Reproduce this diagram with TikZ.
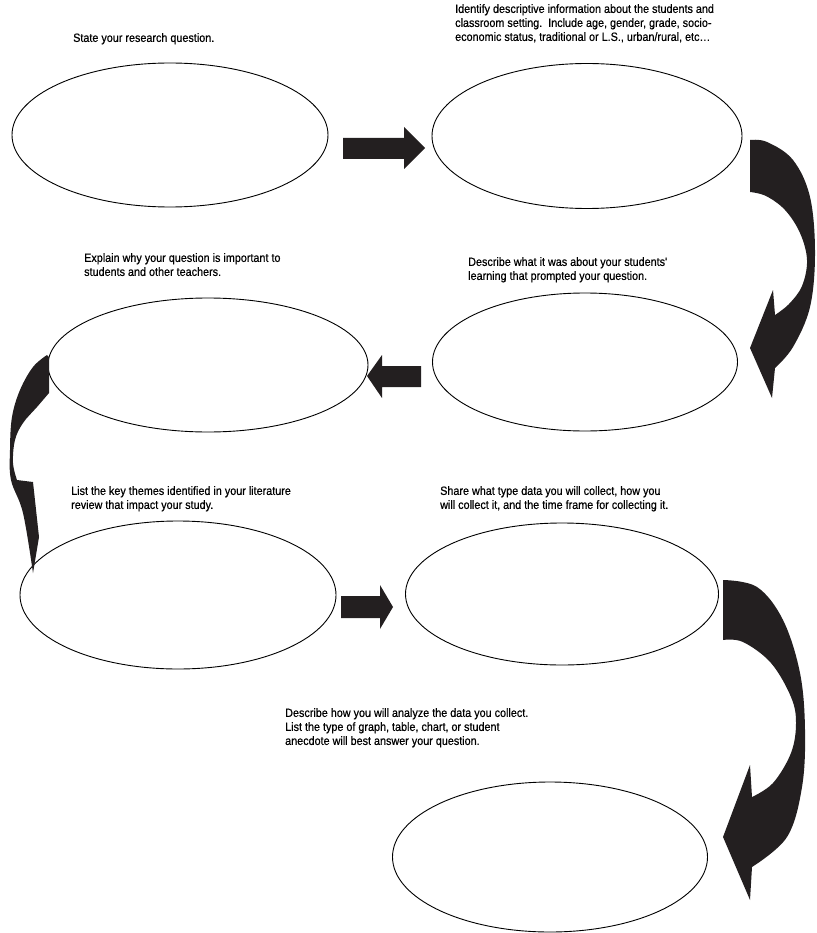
\documentclass[tikz,border=0pt]{standalone}
\usepackage{fontspec}
\setmainfont{Liberation Sans}
\newfontfamily\promptfont{Liberation Sans}[FakeStretch=0.9, FakeBold=0.6]
\usetikzlibrary{shapes.geometric}
\definecolor{ink}{HTML}{231F20}
\tikzset{
  oval/.style={ellipse, draw=black, line width=0.9pt, inner sep=0pt},
  prompt/.style={anchor=north west, inner sep=0pt, align=left,
                 font=\promptfont\fontsize{12}{14}\selectfont},
  blockarrow/.style={fill=ink, draw=none},
}
\begin{document}
\begin{tikzpicture}[x=1pt,y=-1pt]
\useasboundingbox (0,0) rectangle (816,933);

% answer ovals
\node[oval, minimum width=316pt, minimum height=144pt] (q1) at (170,135) {};
\node[oval, minimum width=310pt, minimum height=145pt] (q2) at (587,136) {};
\node[oval, minimum width=320pt, minimum height=134pt] (q3) at (208,365) {};
\node[oval, minimum width=305pt, minimum height=138pt] (q4) at (585,362) {};
\node[oval, minimum width=316pt, minimum height=148pt] (q5) at (178,595) {};
\node[oval, minimum width=313pt, minimum height=142pt] (q6) at (562,594) {};
\node[oval, minimum width=315pt, minimum height=150pt] (q7) at (550,857) {};

% prompts
\node[prompt] (t1) at (73,33) {State your research question.};
\node[prompt] (t2) at (455,4) {Identify descriptive information about the students and\\
classroom setting.\ \ Include age, gender, grade, socio-\\
economic status, traditional or L.S., urban/rural, etc\ldots};
\node[prompt] (t3) at (84,253) {Explain why your question is important to\\
students and other teachers.};
\node[prompt] (t4) at (468,257) {Describe what it was about your students'\\
learning that prompted your question.};
\node[prompt] (t5) at (71,486) {List the key themes identified in your literature\\
review that impact your study.};
\node[prompt] (t6) at (440,486) {Share what type data you will collect, how you\\
will collect it, and the time frame for collecting it.};
\node[prompt] (t7) at (285,708) {Describe how you will analyze the data you collect.\\
List the type of graph, table, chart, or student\\
anecdote will best answer your question.};

% straight block arrows
\fill[blockarrow] (343,138) -- (404,138) -- (404,127) -- (425,148) -- (404,169)
  -- (404,159) -- (343,159) -- cycle;
\fill[blockarrow] (421,366) -- (382,366) -- (382,355) -- (367,376) -- (382,398)
  -- (382,387) -- (421,387) -- cycle;
\fill[blockarrow] (341,596) -- (380,596) -- (380,585) -- (393,607) -- (380,629)
  -- (380,618) -- (341,618) -- cycle;

% curved arrow, top right
\fill[blockarrow] plot[smooth, tension=0.6] coordinates {(750,140) (767,142) (793,160)
  (810,197) (815,253) (810,307) (793,347) (775,368)}
  -- (772,398) -- (750,348) -- (773,290)
  -- plot[smooth, tension=0.6] coordinates {(775,315) (789,304) (802,286) (807,260)
  (800,233) (785,210) (766,196) (750,192)} -- cycle;

% curved arrow, left side
\fill[blockarrow] plot[smooth, tension=0.6] coordinates {(47,355) (33,367) (20,390)
  (12,417) (10,450) (11,480) (23,513) (33,573)}
  -- (39,537) -- (33,482)
  -- plot[smooth, tension=0.6] coordinates {(17,480) (13,463) (15,440) (23,423)
  (37,407) (49,393)} -- (49,357) -- cycle;

% curved arrow, lower right
\fill[blockarrow] plot[smooth, tension=0.6] coordinates {(723,580) (757,587) (783,620)
  (800,673) (805,730) (802,787) (787,837) (752,867)}
  -- (750,900) -- (723,837) -- (750,765)
  -- plot[smooth, tension=0.6] coordinates {(752,797) (773,783) (791,753) (796,723)
  (791,697) (771,663) (743,642) (723,640)} -- cycle;
\end{tikzpicture}
\end{document}
